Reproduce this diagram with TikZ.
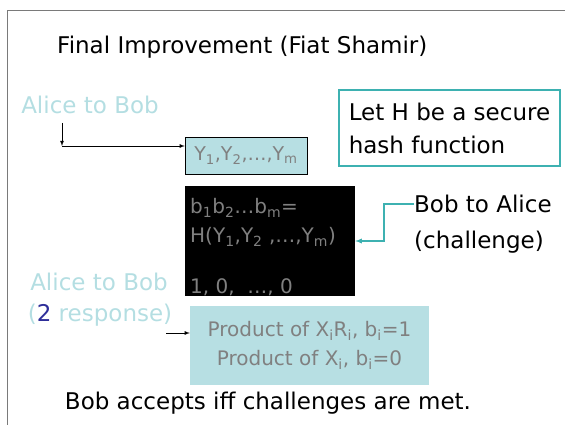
\documentclass[tikz,border=0pt]{standalone}
\usepackage{fontspec}
\setmainfont{DejaVu Sans}
\usepackage{tikz}
\usetikzlibrary{arrows,positioning}

\definecolor{alicecol}{HTML}{B4DEE2}
\definecolor{boxfill}{HTML}{B7DFE3}
\definecolor{tealline}{HTML}{3DB1B1}
\definecolor{greytext}{HTML}{808080}
\definecolor{numblue}{HTML}{2E2E99}
\definecolor{framecol}{HTML}{7A7A7A}

\newcommand{\sub}[1]{\textsubscript{#1}}

\begin{document}
\begin{tikzpicture}[
    x=1pt, y=-1pt,
    big/.style={font=\fontsize{23}{27}\selectfont, inner sep=0pt},
    mid/.style={font=\fontsize{20}{29}\selectfont, inner sep=0pt},
    alice/.style={big, text=alicecol},
    ybox/.style={draw=black, fill=boxfill, text=greytext, minimum width=122pt, minimum height=37pt, inner sep=0pt, font=\fontsize{19}{23}\selectfont},
    hashbox/.style={draw=tealline, line width=1.2pt, minimum width=221pt, minimum height=76pt, align=left, font=\fontsize{23}{33}\selectfont},
    darkbox/.style={fill=black, minimum width=170pt, minimum height=110pt, inner sep=0pt},
    darktext/.style={mid, text=greytext, anchor=west},
    respbox/.style={fill=boxfill, text=greytext, minimum width=239pt, minimum height=79pt, align=center, font=\fontsize{20}{29}\selectfont},
    arrow/.style={-latex, black, line width=0.8pt}
]
    \useasboundingbox (0,0) rectangle (565,425);
    \draw[framecol, line width=1pt] (565,11) -- (7,11) -- (7,425);

    \node[big, anchor=west] (title) at (57,47) {Final Improvement (Fiat Shamir)};

    % first message
    \node[alice] (alice1) at (90,105) {Alice to Bob};
    \node[ybox] (ys) at (246,155.5) {Y\sub{1},Y\sub{2},\dots,Y\sub{m}};
    \coordinate (bend) at (62,146);
    \draw[arrow] (62,123) -- (bend);
    \draw[arrow] (bend) -- (ys.west |- bend);

    \node[hashbox] (hash) at (449.5,128) {Let H be a secure\\hash function};

    % challenge
    \node[darkbox] (dark) at (270,241) {};
    \node[darktext] (bits) at (190,208) {b\sub{1}b\sub{2}\dots b\sub{m}=};
    \node[darktext] (hval) at (190,237) {H(Y\sub{1},Y\sub{2} ,\dots,Y\sub{m})};
    \node[darktext] (zeros) at (190,287) {1, 0,\ \ \dots, 0};

    \node[big, anchor=west] (bob) at (414,204) {Bob to Alice};
    \node[big, anchor=west] (chal) at (414,242) {(challenge)};
    \draw[-latex, tealline, line width=1.3pt] (bob.west) -- ++(-30,0) |- (dark.east);

    % response
    \node[alice] (alice2) at (99,282) {Alice to Bob};
    \node[alice] (resptag) at (100,315) {(\textcolor{numblue}{2} response)};
    \node[respbox] (resp) at (309.5,345.5) {Product of X\sub{i}R\sub{i}, b\sub{i}=1\\Product of X\sub{i}, b\sub{i}=0};
    \coordinate (respfrom) at (166,333);
    \draw[arrow] (respfrom) -- (resp.west |- respfrom);

    \node[big] (accept) at (268,403) {Bob accepts iff challenges are met.};
\end{tikzpicture}
\end{document}
